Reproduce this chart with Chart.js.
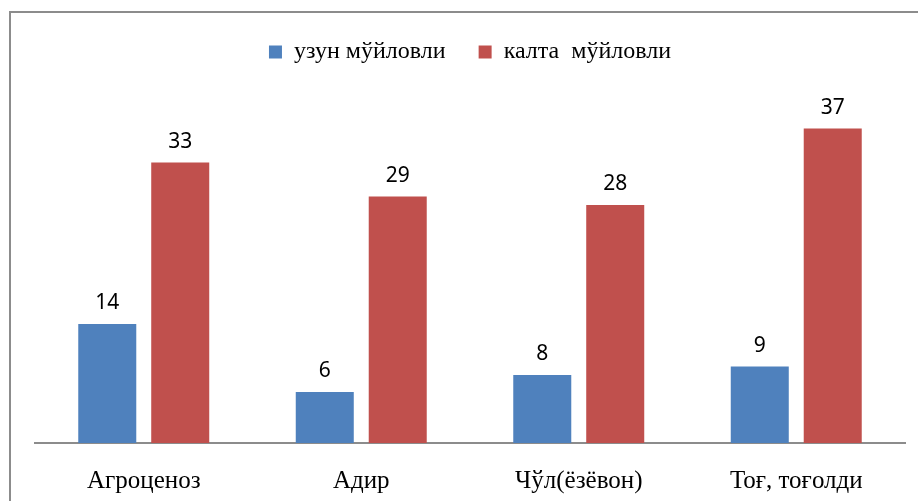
<!DOCTYPE html>
<html>
<head>
<meta charset="utf-8">
<script src="https://cdn.jsdelivr.net/npm/chart.js@4.4.1/dist/chart.umd.min.js"></script>
<style>
  html, body { margin: 0; padding: 0; background: #fff; }
  canvas { display: block; }
</style>
</head>
<body>
<canvas id="chart" width="918" height="501"></canvas>
<script>
const categories = ["Агроценоз", "Адир", "Чўл(ёзёвон)", "Тоғ, тоғолди"];
const longHorned = [14, 6, 8, 9];
const shortHorned = [33, 29, 28, 37];

// outer frame, only top and left edges fall inside the canvas
const frame = {
  id: "frame",
  beforeDraw(chart) {
    const ctx = chart.ctx;
    ctx.save();
    ctx.fillStyle = "#fff";
    ctx.fillRect(0, 0, chart.width, chart.height);
    ctx.strokeStyle = "#8c8c8c";
    ctx.lineWidth = 2;
    ctx.beginPath();
    ctx.moveTo(10, chart.height + 5);
    ctx.lineTo(10, 12);
    ctx.lineTo(chart.width + 5, 12);
    ctx.stroke();
    ctx.restore();
  }
};

// value above each bar
const valueLabels = {
  id: "valueLabels",
  afterDatasetsDraw(chart) {
    const ctx = chart.ctx;
    ctx.save();
    ctx.font = "21px 'Noto Sans'";
    ctx.fillStyle = "#000";
    ctx.textAlign = "center";
    ctx.textBaseline = "bottom";
    chart.data.datasets.forEach((ds, i) => {
      chart.getDatasetMeta(i).data.forEach((bar, j) => {
        ctx.fillText(ds.data[j], bar.x, bar.y - 10);
      });
    });
    ctx.restore();
  }
};

new Chart(document.getElementById("chart"), {
  type: "bar",
  data: {
    labels: categories,
    datasets: [
      {
        label: "узун мўйловли",
        data: longHorned,
        backgroundColor: "#4f81bd",
      },
      {
        label: "калта  мўйловли",
        data: shortHorned,
        backgroundColor: "#c0504d",
      },
    ],
  },
  options: {
    responsive: false,
    animation: false,
    categoryPercentage: 0.671,
    barPercentage: 0.795,
    layout: { padding: { left: 35, right: 13, top: 7, bottom: 0 } },
    scales: {
      x: {
        grid: { display: false },
        border: { display: true, color: "#8c8c8c", width: 2 },
        ticks: {
          color: "#000",
          padding: 15,
          font: { family: "'Liberation Serif'", size: 25 },
        },
        afterFit(scale) { scale.height = 58; },
      },
      y: {
        display: false,
        min: 0,
        max: 43.4,
      },
    },
    plugins: {
      legend: {
        position: "top",
        labels: {
          color: "#000",
          boxWidth: 13,
          boxHeight: 13,
          padding: 33,
          font: { family: "'Liberation Serif'", size: 24 },
        },
      },
      tooltip: { enabled: false },
    },
  },
  plugins: [frame, valueLabels],
});
</script>
</body>
</html>
